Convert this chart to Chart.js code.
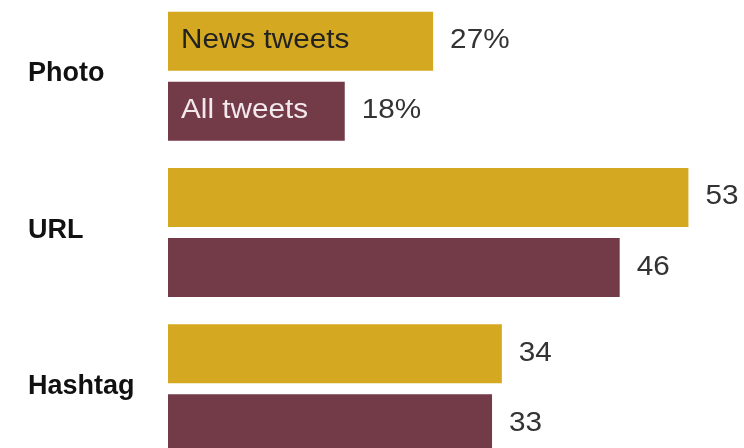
<!DOCTYPE html>
<html>
<head>
<meta charset="utf-8">
<script src="https://cdn.jsdelivr.net/npm/chart.js@4"></script>
<style>
    html, body { margin: 0; padding: 0; background: #fff; overflow: hidden; }
    body { width: 744px; height: 448px; position: relative; }
    #wrap { position: absolute; left: 0; top: -2px; width: 744px; height: 469px; }
</style>
</head>
<body>
<div id="wrap"><canvas id="chart"></canvas></div>
<script>
// Share of tweets containing each element
const categories = ['Photo', 'URL', 'Hashtag'];
const newsTweets = [27, 53, 34];
const allTweets = [18, 46, 33];
const seriesNames = ['News tweets', 'All tweets'];

const GOLD = '#d4a921';
const MAROON = '#733a48';

// Value labels, category names and in-bar series names
const barLabels = {
    id: 'barLabels',
    afterDatasetsDraw(chart) {
        const ctx = chart.ctx;
        const yScale = chart.scales.y;
        ctx.save();

        // category names on the left
        ctx.font = 'bold 27px "Liberation Sans", Arial, sans-serif';
        ctx.fillStyle = '#111';
        ctx.textAlign = 'left';
        ctx.textBaseline = 'alphabetic';
        categories.forEach((name, i) => {
            ctx.fillText(name, 28, yScale.getPixelForValue(i) + 5);
        });

        const drawText = (text, x, y, color) => {
            ctx.save();
            ctx.translate(x, y);
            ctx.scale(1.1, 1);
            ctx.fillStyle = color;
            ctx.fillText(text, 0, 0);
            ctx.restore();
        };

        ctx.font = '27px "Liberation Sans", Arial, sans-serif';
        chart.data.datasets.forEach((ds, di) => {
            const meta = chart.getDatasetMeta(di);
            meta.data.forEach((bar, i) => {
                const value = ds.data[i];
                const text = i === 0 ? value + '%' : String(value);
                drawText(text, bar.x + 17, bar.y + 7, '#333');
                // series name sits inside the first pair of bars
                if (i === 0) {
                    drawText(ds.label, bar.base + 13, bar.y + 7, di === 0 ? '#222' : '#f3e9ec');
                }
            });
        });
        ctx.restore();
    }
};

new Chart(document.getElementById('chart'), {
    type: 'bar',
    data: {
        labels: categories,
        datasets: [
            { label: seriesNames[0], data: newsTweets, backgroundColor: GOLD },
            { label: seriesNames[1], data: allTweets, backgroundColor: MAROON }
        ]
    },
    options: {
        indexAxis: 'y',
        responsive: true,
        maintainAspectRatio: false,
        animation: false,
        layout: { padding: { left: 168, right: 0, top: 0, bottom: 0 } },
        datasets: {
            bar: { categoryPercentage: 0.896, barPercentage: 0.843 }
        },
        scales: {
            x: { display: false, min: 0, max: 58.66 },
            y: { display: false }
        },
        plugins: {
            legend: { display: false },
            tooltip: { enabled: false }
        }
    },
    plugins: [barLabels]
});
</script>
</body>
</html>
